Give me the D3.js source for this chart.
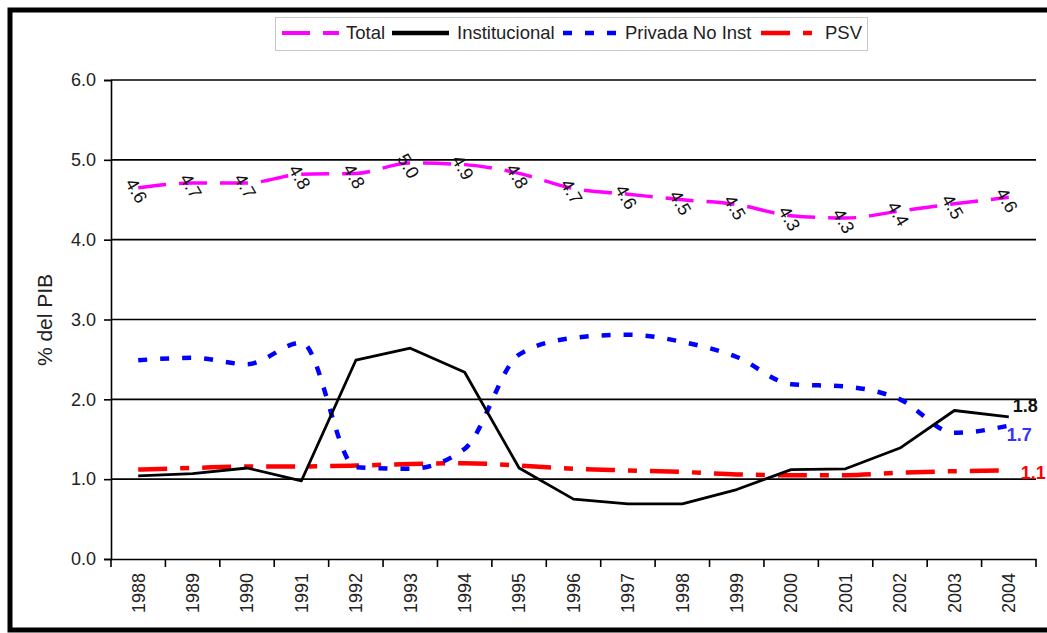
<!DOCTYPE html>
<html>
<head>
<meta charset="utf-8">
<script src="https://cdn.jsdelivr.net/npm/d3@7"></script>
<style>
  body { margin: 0; background: #fff; }
  text { font-family: "Liberation Sans", Arial, sans-serif; }
</style>
</head>
<body>
<div id="chart"></div>
<script>
// Years on the x axis
var years = ["1988","1989","1990","1991","1992","1993","1994","1995","1996",
             "1997","1998","1999","2000","2001","2002","2003","2004"];

// Series values (% del PIB)
var total = [4.65, 4.71, 4.71, 4.82, 4.83, 4.96, 4.94, 4.83, 4.64, 4.57,
             4.50, 4.44, 4.30, 4.27, 4.36, 4.45, 4.53];
var totalLabels = ["4.6","4.7","4.7","4.8","4.8","5.0","4.9","4.8","4.7",
                   "4.6","4.5","4.5","4.3","4.3","4.4","4.5","4.6"];
var institucional = [1.04, 1.07, 1.14, 0.98, 2.49, 2.64, 2.34, 1.14, 0.75,
                     0.69, 0.69, 0.87, 1.12, 1.13, 1.39, 1.86, 1.78];
var privada = [2.49, 2.52, 2.44, 2.71, 1.15, 1.13, 1.38, 2.56, 2.77, 2.81,
               2.72, 2.53, 2.19, 2.16, 2.00, 1.58, 1.67];
var psv = [1.12, 1.14, 1.16, 1.16, 1.17, 1.19, 1.20, 1.17, 1.13, 1.11,
           1.09, 1.06, 1.05, 1.05, 1.08, 1.10, 1.11];

var yTicks = [0, 1, 2, 3, 4, 5, 6];
var endLabels = ["1.8", "1.7", "1.1"];

var w = 1047, h = 633;
var plotLeft = 111, plotRight = 1036, plotTop = 80, plotBottom = 559;

var svg = d3.select("#chart").append("svg")
    .attr("width", w).attr("height", h);

// outer frame
svg.append("rect")
    .attr("x", 10).attr("y", 10)
    .attr("width", 1100).attr("height", 620)
    .attr("fill", "none").attr("stroke", "#000").attr("stroke-width", 5);

var xScale = d3.scaleBand().domain(years).range([plotLeft, plotRight]);
var yScale = d3.scaleLinear().domain([0, 6]).range([plotBottom, plotTop]);

function xc(i) { return xScale(years[i]) + xScale.bandwidth() / 2; }

// horizontal grid lines
svg.append("g").selectAll("line")
    .data(yTicks.filter(function(d) { return d > 0; }))
    .enter().append("line")
    .attr("x1", plotLeft).attr("x2", plotRight)
    .attr("y1", function(d) { return yScale(d); })
    .attr("y2", function(d) { return yScale(d); })
    .attr("stroke", "#000").attr("stroke-width", 1.6);

// y axis
var yAxis = d3.axisLeft(yScale).tickValues(yTicks)
    .tickFormat(d3.format(".1f")).tickSize(7).tickPadding(8);
var gy = svg.append("g").attr("transform", "translate(" + plotLeft + ",0)").call(yAxis);
gy.select(".domain").attr("stroke-width", 1.6);
gy.selectAll(".tick line").attr("stroke-width", 1.6);
gy.selectAll("text").attr("font-size", 18).attr("fill", "#222")
    .attr("font-family", "Liberation Sans, Arial, sans-serif");

// x axis
var xAxis = d3.axisBottom(xScale).tickSize(0).tickPadding(0);
var gx = svg.append("g").attr("transform", "translate(0," + plotBottom + ")").call(xAxis);
gx.select(".domain").attr("stroke-width", 1.6);
gx.selectAll("text")
    .attr("font-size", 18).attr("fill", "#222")
    .attr("font-family", "Liberation Sans, Arial, sans-serif")
    .attr("transform", "rotate(-90)")
    .attr("text-anchor", "end")
    .attr("x", -14).attr("y", 0).attr("dy", "0.35em");

// tick marks at category boundaries
var bounds = years.map(function(d) { return xScale(d); }).concat([plotRight]);
svg.append("g").selectAll("line").data(bounds).enter().append("line")
    .attr("x1", function(d) { return d; }).attr("x2", function(d) { return d; })
    .attr("y1", plotBottom).attr("y2", plotBottom + 8)
    .attr("stroke", "#000").attr("stroke-width", 1.6);

// y label
svg.append("text")
    .attr("transform", "translate(52,320) rotate(-90)")
    .attr("text-anchor", "middle")
    .attr("font-size", 21).attr("fill", "#222")
    .text("% del PIB");

var smooth = d3.line()
    .x(function(d, i) { return xc(i); })
    .y(function(d) { return yScale(d); })
    .curve(d3.curveMonotoneX);
var straight = d3.line()
    .x(function(d, i) { return xc(i); })
    .y(function(d) { return yScale(d); });

// PSV
svg.append("path").datum(psv)
    .attr("d", smooth).attr("fill", "none")
    .attr("stroke", "#ff0000").attr("stroke-width", 4.5)
    .attr("stroke-dasharray", "29,13,9,13");

// Privada No Inst
svg.append("path").datum(privada)
    .attr("d", smooth).attr("fill", "none")
    .attr("stroke", "#0000ff").attr("stroke-width", 4.5)
    .attr("stroke-dasharray", "9,13");

// Institucional
svg.append("path").datum(institucional)
    .attr("d", straight).attr("fill", "none")
    .attr("stroke", "#000").attr("stroke-width", 2.8)
    .attr("stroke-linejoin", "round");

// Total
svg.append("path").datum(total)
    .attr("d", smooth).attr("fill", "none")
    .attr("stroke", "#ff00ff").attr("stroke-width", 3.5)
    .attr("stroke-dasharray", "28,13");

// Total data labels, rotated
svg.append("g").selectAll("text").data(total).enter().append("text")
    .attr("transform", function(d, i) {
        return "translate(" + (xc(i) - 8) + "," + (yScale(d) - 8) + ") rotate(60)";
    })
    .attr("dy", "0.35em")
    .attr("font-size", 18).attr("fill", "#111")
    .text(function(d, i) { return totalLabels[i]; });

// end labels
var last = years.length - 1;
svg.append("text")
    .attr("x", xc(last) + 4).attr("y", yScale(institucional[last]) - 11)
    .attr("dy", "0.35em").attr("font-size", 18).attr("font-weight", "bold")
    .attr("fill", "#111").text(endLabels[0]);
svg.append("text")
    .attr("x", xc(last) - 2).attr("y", yScale(privada[last]) + 9)
    .attr("dy", "0.35em").attr("font-size", 18).attr("font-weight", "bold")
    .attr("fill", "#3333ff").text(endLabels[1]);
svg.append("text")
    .attr("x", xc(last) + 12).attr("y", yScale(psv[last]) + 2)
    .attr("dy", "0.35em").attr("font-size", 18).attr("font-weight", "bold")
    .attr("fill", "#ff0000").text(endLabels[2]);

// legend
var legendItems = [
    { name: "Total", color: "#ff00ff", dash: "28,13", width: 4, x: 282, tx: 346 },
    { name: "Institucional", color: "#000", dash: null, width: 4.5, x: 392, tx: 457 },
    { name: "Privada No Inst", color: "#0000ff", dash: "9,13", width: 4.5, x: 563, tx: 625 },
    { name: "PSV", color: "#ff0000", dash: "29,13,9,13", width: 4.5, x: 761, tx: 825 }
];
svg.append("rect")
    .attr("x", 275.5).attr("y", 17.5).attr("width", 592).attr("height", 33)
    .attr("fill", "#fff").attr("stroke", "#c8c8c8").attr("stroke-width", 1);
var lg = svg.append("g").selectAll("g").data(legendItems).enter().append("g");
lg.append("line")
    .attr("x1", function(d) { return d.x; })
    .attr("x2", function(d) { return d.x + 57; })
    .attr("y1", 33).attr("y2", 33)
    .attr("stroke", function(d) { return d.color; })
    .attr("stroke-width", function(d) { return d.width; })
    .attr("stroke-dasharray", function(d) { return d.dash; });
lg.append("text")
    .attr("x", function(d) { return d.tx; }).attr("y", 33)
    .attr("dy", "0.35em").attr("font-size", 18.5).attr("fill", "#222")
    .text(function(d) { return d.name; });
</script>
</body>
</html>
